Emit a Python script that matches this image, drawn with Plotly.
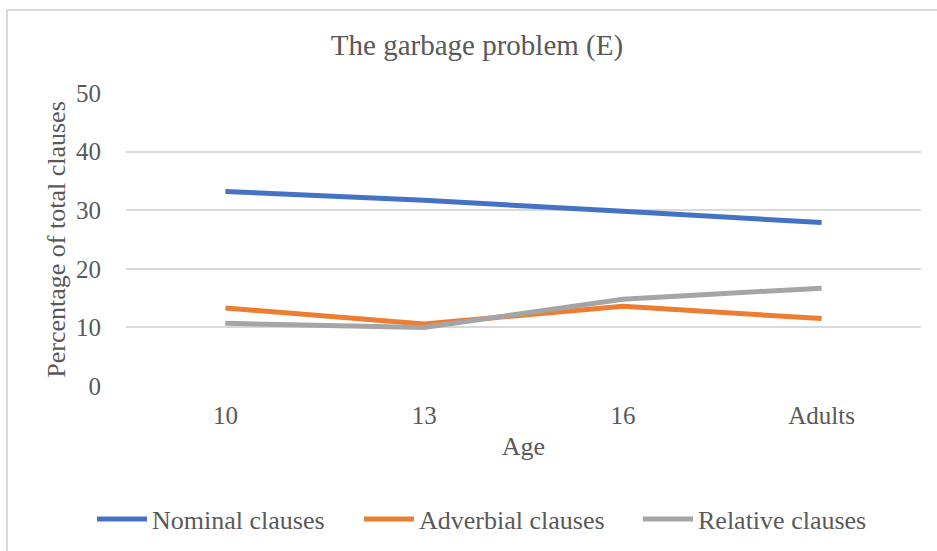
import plotly.graph_objects as go

ages = ["10", "13", "16", "Adults"]
nominal = [33.2, 31.7, 29.8, 27.9]
adverbial = [13.3, 10.6, 13.6, 11.5]
relative = [10.7, 10.0, 14.8, 16.7]
series_names = ["Nominal clauses", "Adverbial clauses", "Relative clauses"]
colors = ["#4472C4", "#ED7D31", "#A5A5A5"]
y_ticks = [0, 10, 20, 30, 40, 50]

W, H = 937, 551
ML, MR, MT, MB = 126, 16, 93, 165
legend_ids = ["legend", "legend2", "legend3"]
legend_left = [92, 359, 638]

FONT = "Liberation Serif, Times New Roman, serif"
TXT = "#595959"

fig = go.Figure()
for name, vals, col, lid in zip(series_names, [nominal, adverbial, relative], colors, legend_ids):
    fig.add_trace(go.Scatter(
        x=ages, y=vals, mode="lines", name=name,
        line=dict(color=col, width=5, shape="linear"),
        hoverinfo="x+y+name", legend=lid,
    ))

pw = W - ML - MR
ph = H - MT - MB
# outer chart border (extends past right/bottom edges as in the reference)
fig.add_shape(type="rect", xref="paper", yref="paper",
              x0=(7 - ML) / pw, x1=(960 - ML) / pw,
              y0=(H - MB - 570) / ph, y1=(H - MB - 10) / ph,
              line=dict(color="#D9D9D9", width=2), fillcolor="rgba(0,0,0,0)",
              layer="below")

legend_style = dict(orientation="h", xref="container", yref="container",
                    xanchor="left", y=1 - 519 / H, yanchor="middle",
                    font=dict(size=26, color=TXT, family=FONT),
                    itemwidth=50, bgcolor="rgba(0,0,0,0)")

fig.update_layout(
    width=W, height=H,
    margin=dict(l=ML, r=MR, t=MT, b=MB, pad=0),
    paper_bgcolor="white", plot_bgcolor="white",
    font=dict(family=FONT, color=TXT, size=25),
    title=dict(text="The garbage problem (E)", font=dict(size=29, color=TXT, family=FONT),
               xref="container", x=477 / W, xanchor="center",
               yref="container", y=1 - 45 / H, yanchor="middle"),
    xaxis=dict(
        type="category", range=[-0.5, 3.5],
        showgrid=False, zeroline=False, showline=False, ticks="",
        tickfont=dict(size=25, color=TXT, family=FONT),
        ticklabelstandoff=12,
        title=dict(text="Age", font=dict(size=26, color=TXT, family=FONT), standoff=8),
    ),
    yaxis=dict(
        range=[0, 50], tickvals=y_ticks, ticktext=[str(v) for v in y_ticks],
        showgrid=True, gridcolor="#D9D9D9", gridwidth=1.5,
        zeroline=False, showline=False, ticks="",
        tickfont=dict(size=25, color=TXT, family=FONT),
        ticklabelstandoff=24,
        title=dict(text="Percentage of total clauses", font=dict(size=26, color=TXT, family=FONT), standoff=2),
    ),
    showlegend=True,
    legend=dict(legend_style, x=legend_left[0] / W),
    legend2=dict(legend_style, x=legend_left[1] / W),
    legend3=dict(legend_style, x=legend_left[2] / W),
)

fig.write_html("out.html")
